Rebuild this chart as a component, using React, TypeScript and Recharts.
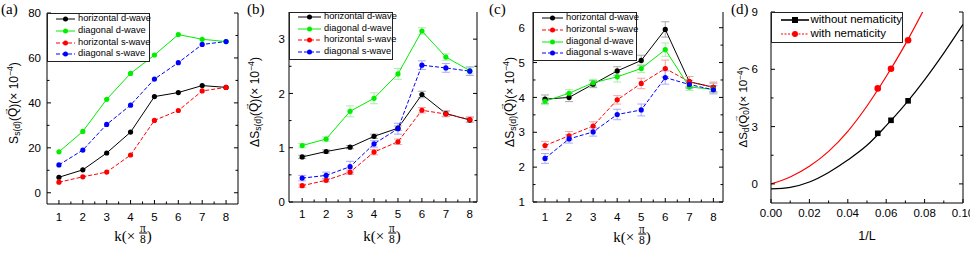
import React from "react";
import { LineChart, Line, XAxis, YAxis, ErrorBar } from "recharts";

const SANS = "'Liberation Sans', Arial, Helvetica, sans-serif";
const SERIF = "'Liberation Serif', 'Times New Roman', serif";

const BLACK = "#000000";
const GREEN = "#00ee00";
const RED = "#ff0000";
const BLUE = "#0000ff";
const ERR_COLOR: Record<string, string> = {
  [BLACK]: "#a8a8a8",
  [GREEN]: "#a8efa8",
  [RED]: "#f4a4a4",
  [BLUE]: "#aaaaf4",
};

// ---- data ----
const K = [1, 2, 3, 4, 5, 6, 7, 8];

// (a) S_s(d)(Q) x 1e-4
const aHorD = [6.9, 10.2, 17.7, 27, 42.8, 44.6, 47.7, 46.9];
const aDiaD = [18.2, 27.3, 41.6, 53.1, 61.3, 70.4, 68.3, 67.3];
const aHorS = [4.7, 7.1, 9.2, 16.8, 32.2, 36.6, 45.3, 46.9];
const aDiaS = [12.4, 19, 30.4, 39, 50.6, 57.9, 66, 67.3];

// (b) ΔS_s(d)(Q) x 1e-4
const bHorD = [0.83, 0.93, 1.01, 1.21, 1.36, 1.98, 1.63, 1.51];
const bDiaD = [1.04, 1.16, 1.67, 1.91, 2.36, 3.15, 2.67, 2.42];
const bHorS = [0.3, 0.4, 0.55, 0.92, 1.11, 1.69, 1.62, 1.52];
const bDiaS = [0.44, 0.49, 0.65, 1.07, 1.35, 2.52, 2.47, 2.41];
const bHorDErr = [0.03, 0.03, 0.03, 0.04, 0.04, 0.06, 0.05, 0.04];
const bDiaDErr = [0.04, 0.04, 0.1, 0.1, 0.1, 0.06, 0.06, 0.06];
const bHorSErr = [0.03, 0.03, 0.04, 0.05, 0.05, 0.05, 0.05, 0.05];
const bDiaSErr = [0.05, 0.06, 0.1, 0.06, 0.1, 0.08, 0.08, 0.08];

// (c)
const cHorD = [3.95, 4.0, 4.38, 4.76, 5.06, 5.95, 4.45, 4.29];
const cHorS = [2.62, 2.9, 3.18, 3.93, 4.4, 4.83, 4.45, 4.29];
const cDiaD = [3.89, 4.12, 4.42, 4.59, 4.83, 5.37, 4.3, 4.23];
const cDiaS = [2.25, 2.81, 3.01, 3.51, 3.64, 4.57, 4.37, 4.22];
const cHorDErr = [0.12, 0.12, 0.1, 0.12, 0.15, 0.22, 0.15, 0.12];
const cHorSErr = [0.12, 0.12, 0.12, 0.12, 0.15, 0.24, 0.15, 0.15];
const cDiaDErr = [0.1, 0.1, 0.1, 0.15, 0.12, 0.19, 0.1, 0.1];
const cDiaSErr = [0.14, 0.12, 0.12, 0.15, 0.17, 0.19, 0.12, 0.12];

// (d) ΔS_d(Q0) vs 1/L, fitted curves + data points
const fitX = [0, 0.01, 0.02, 0.03, 0.04, 0.05, 0.06, 0.07, 0.08, 0.09, 0.1];
const fitWithout = [-0.26, -0.18, 0.1, 0.6, 1.25, 2.02, 3.05, 4.18, 5.45, 6.85, 8.35];
const fitWith = [0, 0.36, 0.92, 1.7, 2.75, 4.08, 5.62, 7.32, 9.2, 11.2, 13.3];
const invL = [0.0556, 0.0625, 0.0714];
const ptWithout = [2.65, 3.33, 4.35];
const ptWith = [5.0, 6.03, 7.52];

const rowsA = K.map((k, i) => ({ x: k, hd: aHorD[i], dd: aDiaD[i], hs: aHorS[i], ds: aDiaS[i] }));
const rowsB = K.map((k, i) => ({
  x: k, hd: bHorD[i], dd: bDiaD[i], hs: bHorS[i], ds: bDiaS[i],
  hdErr: bHorDErr[i], ddErr: bDiaDErr[i], hsErr: bHorSErr[i], dsErr: bDiaSErr[i],
}));
const rowsC = K.map((k, i) => ({
  x: k, hd: cHorD[i], dd: cDiaD[i], hs: cHorS[i], ds: cDiaS[i],
  hdErr: cHorDErr[i], ddErr: cDiaDErr[i], hsErr: cHorSErr[i], dsErr: cDiaSErr[i],
}));
const fitRows = fitX.map((x, i) => ({ x, wo: fitWithout[i], w: fitWith[i] }));
const ptRows = invL.map((x, i) => ({ x, wo: ptWithout[i], w: ptWith[i] }));

type Series = { key: string; name: string; color: string; dash?: string };
const HD: Series = { key: "hd", name: "horizontal d-wave", color: BLACK };
const DD: Series = { key: "dd", name: "diagonal d-wave", color: GREEN };
const HS: Series = { key: "hs", name: "horizontal s-wave", color: RED, dash: "4 2" };
const DS: Series = { key: "ds", name: "diagonal s-wave", color: BLUE, dash: "4 2" };
const seriesAB = [HD, DD, HS, DS];
const seriesC = [HD, HS, DD, DS];

// ---- ticks (inward, major + minor) ----
const near = (list: number[], v: number) => list.some((m) => Math.abs(m - v) < 1e-9);

const bottomTick = (majors: number[], gap: number, fmt: (v: number) => string = String) => (p: any) => {
  const v = p.payload.value;
  const major = near(majors, v);
  return (
    <g>
      <line x1={p.x} x2={p.x} y1={p.y} y2={p.y - (major ? 4 : 2.5)} stroke="#000" />
      {major ? (
        <text x={p.x} y={p.y + gap} textAnchor="middle" fontSize={11.5} fontFamily={SANS} fill="#000">
          {fmt(v)}
        </text>
      ) : null}
    </g>
  );
};

const leftTick = (majors: number[], gap: number) => (p: any) => {
  const v = p.payload.value;
  const major = near(majors, v);
  return (
    <g>
      <line x1={p.x} x2={p.x + (major ? 4 : 2.5)} y1={p.y} y2={p.y} stroke="#000" />
      {major ? (
        <text x={p.x - gap} y={p.y} dy="0.36em" textAnchor="end" fontSize={11.5} fontFamily={SANS} fill="#000">
          {String(v)}
        </text>
      ) : null}
    </g>
  );
};

const rightTick = (majors: number[]) => (p: any) => {
  const major = near(majors, p.payload.value);
  return <line x1={p.x} x2={p.x - (major ? 4 : 2.5)} y1={p.y} y2={p.y} stroke="#000" />;
};

const PAD_L = 50;
const PAD_R = 15;
const H = 253;

type Box = { pl: number; pt: number; pr: number; pb: number };

function frameAxes(
  box: Box,
  xd: [number, number],
  yd: [number, number],
  xt: number[],
  xMaj: number[],
  yt: number[],
  yMaj: number[],
  xGap: number,
  yGap: number,
  xFmt?: (v: number) => string
) {
  return [
    <XAxis key="xb" dataKey="x" type="number" domain={xd} allowDataOverflow ticks={xt} interval={0}
      height={H - box.pb} tickSize={0} tickMargin={0} tickLine={false}
      axisLine={{ stroke: "#000" }} tick={bottomTick(xMaj, xGap, xFmt)} />,
    <XAxis key="xt" xAxisId="top" orientation="top" type="number" domain={xd} allowDataOverflow
      height={0} tick={false} tickLine={false} axisLine={{ stroke: "#000" }} />,
    <YAxis key="yl" type="number" domain={yd} allowDataOverflow ticks={yt} interval={0}
      width={PAD_L} tickSize={0} tickMargin={0} tickLine={false}
      axisLine={{ stroke: "#000" }} tick={leftTick(yMaj, yGap)} />,
    <YAxis key="yr" yAxisId="right" orientation="right" type="number" domain={yd} allowDataOverflow
      ticks={yt} interval={0} width={1} tickSize={0} tickMargin={0} tickLine={false}
      axisLine={{ stroke: "#000" }} tick={rightTick(yMaj)} />,
  ];
}

function chartProps(box: Box) {
  return {
    width: box.pr - box.pl + PAD_L + PAD_R,
    height: H,
    margin: { top: box.pt, right: PAD_R - 1, bottom: 0, left: 0 },
  };
}

function Holder({ box, children }: { box: Box; children: React.ReactNode }) {
  return <div style={{ position: "absolute", left: box.pl - PAD_L, top: 0 }}>{children}</div>;
}

// ---- text pieces ----
function Vec({ children }: { children: React.ReactNode }) {
  return (
    <span style={{ position: "relative", display: "inline-block" }}>
      {children}
      <span style={{ position: "absolute", left: "0.12em", top: "-0.72em", fontSize: "0.7em" }}>→</span>
    </span>
  );
}
const Sub = ({ children }: { children: React.ReactNode }) => (
  <span style={{ fontSize: "0.72em", verticalAlign: "-0.28em" }}>{children}</span>
);
const Sup = ({ children }: { children: React.ReactNode }) => (
  <span style={{ fontSize: "0.72em", verticalAlign: "0.5em" }}>{children}</span>
);

function YLabel({ cx, cy, children, size = 12 }: { cx: number; cy: number; children: React.ReactNode; size?: number }) {
  return (
    <div style={{
      position: "absolute", left: cx, top: cy, transform: "translate(-50%, -50%) rotate(-90deg)",
      fontFamily: SANS, fontSize: size, whiteSpace: "nowrap", lineHeight: 1, color: "#000",
    }}>
      {children}
    </div>
  );
}

function KLabel({ cx, cy }: { cx: number; cy: number }) {
  return (
    <div style={{
      position: "absolute", left: cx, top: cy, transform: "translate(-50%, -50%)",
      fontFamily: SERIF, fontSize: 15, display: "flex", alignItems: "center", whiteSpace: "nowrap", lineHeight: 1,
    }}>
      <span style={{ marginTop: 3 }}>k(×&nbsp;</span>
      <span style={{ display: "inline-flex", flexDirection: "column", alignItems: "center", fontSize: 11.5 }}>
        <span style={{ padding: "0 1px", borderBottom: "1px solid #000", lineHeight: "9px" }}>π</span>
        <span style={{ lineHeight: "11px" }}>8</span>
      </span>
      <span style={{ marginTop: 3 }}>)</span>
    </div>
  );
}

function PanelTag({ x, label }: { x: number; label: string }) {
  return (
    <div style={{ position: "absolute", left: x, top: 2, fontFamily: SERIF, fontSize: 15, lineHeight: 1 }}>
      {label}
    </div>
  );
}

type LegendItem = { name: string; color: string; dash?: string; marker: "circle" | "square"; lw?: number };

function LegendBox(props: {
  left: number; top: number; width: number; height: number;
  first: number; step: number; sx: number; sw: number; tx: number; fontSize: number;
  items: LegendItem[]; mr: number;
}) {
  const { left, top, width, height, first, step, sx, sw, tx, fontSize, items, mr } = props;
  return (
    <div style={{
      position: "absolute", left, top, width, height, boxSizing: "border-box",
      border: "1px solid #222", background: "#fff",
    }}>
      {items.map((it, i) => {
        const cy = first + i * step;
        return (
          <React.Fragment key={it.name}>
            <svg width={sw} height={10} style={{ position: "absolute", left: sx, top: cy - 5 }}>
              <line x1={0} x2={sw} y1={5} y2={5} stroke={it.color} strokeWidth={it.lw ?? 1} strokeDasharray={it.dash} />
              {it.marker === "circle" ? (
                <circle cx={sw / 2} cy={5} r={mr} fill={it.color} />
              ) : (
                <rect x={sw / 2 - mr} y={5 - mr} width={mr * 2} height={mr * 2} fill={it.color} />
              )}
            </svg>
            <span style={{
              position: "absolute", left: tx, top: cy, transform: "translateY(-50%)",
              fontFamily: SANS, fontSize, lineHeight: 1, whiteSpace: "nowrap", color: "#000",
            }}>
              {it.name}
            </span>
          </React.Fragment>
        );
      })}
    </div>
  );
}

const toLegend = (list: Series[]): LegendItem[] =>
  list.map((s) => ({ name: s.name, color: s.color, dash: s.dash, marker: "circle" }));

const kTicks = [1, 1.5, 2, 2.5, 3, 3.5, 4, 4.5, 5, 5.5, 6, 6.5, 7, 7.5, 8];

const boxA: Box = { pl: 47, pt: 13, pr: 238, pb: 204 };
const boxB: Box = { pl: 289, pt: 12, pr: 477, pb: 202 };
const boxC: Box = { pl: 533, pt: 12, pr: 723, pb: 202 };
const boxD: Box = { pl: 771, pt: 12, pr: 963, pb: 203 };

function kLines(list: Series[], withErr: boolean) {
  return list.map((s) => (
    <Line key={s.key} dataKey={s.key} type="linear" stroke={s.color} strokeWidth={1}
      strokeDasharray={s.dash} dot={{ r: 2.6, fill: s.color, stroke: "none", strokeDasharray: "0" }}
      activeDot={false} isAnimationActive={false}>
      {withErr ? (
        <ErrorBar dataKey={s.key + "Err"} width={4} stroke={ERR_COLOR[s.color]} strokeWidth={1} direction="y" />
      ) : null}
    </Line>
  ));
}

const squareDot = (color: string) => (p: any) => (
  <rect key={`sq-${p.index}`} x={p.cx - 2.8} y={p.cy - 2.8} width={5.6} height={5.6} fill={color} />
);

export default function App() {
  return (
    <div style={{
      position: "absolute", left: 0, top: 0, width: 970, height: 253, overflow: "hidden", background: "#fff",
    }}>
      {/* (a) */}
      <Holder box={boxA}>
        <LineChart {...chartProps(boxA)} data={rowsA}>
          {frameAxes(boxA, [0.5, 8.5], [-5, 80], kTicks, K, [0, 10, 20, 30, 40, 50, 60, 70, 80], [0, 20, 40, 60, 80], 16.5, 6)}
          {kLines(seriesAB, false)}
        </LineChart>
      </Holder>

      {/* (b) */}
      <Holder box={boxB}>
        <LineChart {...chartProps(boxB)} data={rowsB}>
          {frameAxes(boxB, [0.45, 8.3], [0, 3.5], kTicks, K, [0, 0.5, 1, 1.5, 2, 2.5, 3], [0, 1, 2, 3], 15.5, 4)}
          {kLines(seriesAB, true)}
        </LineChart>
      </Holder>

      {/* (c) */}
      <Holder box={boxC}>
        <LineChart {...chartProps(boxC)} data={rowsC}>
          {frameAxes(boxC, [0.5, 8.4], [1, 6.45], kTicks, K, [1, 1.5, 2, 2.5, 3, 3.5, 4, 4.5, 5, 5.5, 6], [1, 2, 3, 4, 5, 6], 18.5, 8)}
          {kLines(seriesC, true)}
        </LineChart>
      </Holder>

      {/* (d) */}
      <Holder box={boxD}>
        <LineChart {...chartProps(boxD)} data={fitRows}>
          {frameAxes(
            boxD, [0, 0.1], [-1, 9],
            [0, 0.01, 0.02, 0.03, 0.04, 0.05, 0.06, 0.07, 0.08, 0.09, 0.1], [0, 0.02, 0.04, 0.06, 0.08, 0.1],
            [0, 1.5, 3, 4.5, 6, 7.5, 9], [0, 3, 6, 9], 13.5, 13, (v) => v.toFixed(2)
          )}
          <Line dataKey="wo" type="monotone" stroke={BLACK} strokeWidth={1.2} dot={false} activeDot={false} isAnimationActive={false} />
          <Line dataKey="w" type="monotone" stroke={RED} strokeWidth={1.2} dot={false} activeDot={false} isAnimationActive={false} />
          <Line data={ptRows} dataKey="wo" stroke="none" dot={squareDot(BLACK)} activeDot={false} isAnimationActive={false} />
          <Line data={ptRows} dataKey="w" stroke="none" dot={{ r: 3.3, fill: RED, stroke: "none" }} activeDot={false} isAnimationActive={false} />
        </LineChart>
      </Holder>

      {/* legends */}
      <LegendBox left={47} top={13} width={103} height={49} first={5.3} step={11.7} sx={8} sw={19} tx={30}
        fontSize={9.3} items={toLegend(seriesAB)} mr={2.5} />
      <LegendBox left={289} top={12} width={104} height={48} first={4.2} step={11.6} sx={8} sw={23} tx={34}
        fontSize={9.3} items={toLegend(seriesAB)} mr={2.5} />
      <LegendBox left={533} top={12} width={104} height={49} first={5.3} step={11.7} sx={8} sw={21} tx={32}
        fontSize={9.3} items={toLegend(seriesC)} mr={2.5} />
      <LegendBox left={771} top={12} width={132} height={31} first={7} step={13.7} sx={9} sw={28} tx={38.5}
        fontSize={11.5} mr={3}
        items={[
          { name: "without nematicity", color: BLACK, marker: "square", lw: 1.6 },
          { name: "with nematicity", color: RED, marker: "circle", dash: "2 1.5" },
        ]} />

      {/* panel tags */}
      <PanelTag x={1} label="(a)" />
      <PanelTag x={247} label="(b)" />
      <PanelTag x={489} label="(c)" />
      <PanelTag x={731} label="(d)" />

      {/* axis titles */}
      <YLabel cx={14} cy={103}>
        S<Sub>s(d)</Sub>(<Vec>Q</Vec>)(× 10<Sup>−4</Sup>)
      </YLabel>
      <YLabel cx={255} cy={102}>
        ΔS<Sub>s(d)</Sub>(<Vec>Q</Vec>)(× 10<Sup>−4</Sup>)
      </YLabel>
      <YLabel cx={510} cy={102}>
        ΔS<Sub>s(d)</Sub>(<Vec>Q</Vec>)(× 10<Sup>−4</Sup>)
      </YLabel>
      <YLabel cx={744} cy={107} size={11.5}>
        ΔS<Sub>d</Sub>(<Vec>Q</Vec><Sub>0</Sub>)(× 10<Sup>−4</Sup>)
      </YLabel>

      <KLabel cx={133} cy={234} />
      <KLabel cx={382} cy={234} />
      <KLabel cx={632} cy={235} />
      <div style={{
        position: "absolute", left: 867, top: 236, transform: "translate(-50%, -50%)",
        fontFamily: SANS, fontSize: 12.5, lineHeight: 1,
      }}>
        1/L
      </div>
    </div>
  );
}
